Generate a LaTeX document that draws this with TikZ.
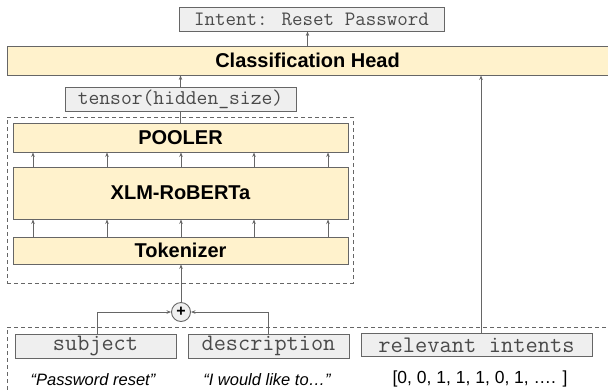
\documentclass[tikz,border=0pt]{standalone}
\usepackage{fontspec}
\setmainfont{Liberation Sans}
\usetikzlibrary{arrows.meta}
\definecolor{yfill}{HTML}{FFF2CC}
\definecolor{gfill}{HTML}{EFEFEF}
\definecolor{edge}{HTML}{666666}
\definecolor{mtext}{HTML}{4A4A4A}
\tikzset{
  ybox/.style={draw=edge, fill=yfill, line width=0.9bp, inner sep=0pt, text=black,
    font=\fontsize{20bp}{24bp}\selectfont\bfseries},
  gbox/.style={draw=edge, fill=gfill, line width=0.9bp, inner sep=0pt, text=mtext},
  dbox/.style={draw=edge, dashed, dash pattern=on 4bp off 3bp, line width=0.9bp, inner sep=0pt},
  arr/.style={draw=edge, line width=0.9bp, -{Stealth[length=4.5bp,width=3.5bp]}},
  ln/.style={draw=edge, line width=0.9bp},
  quote/.style={inner sep=0pt, font=\fontsize{16.5bp}{20bp}\selectfont\itshape},
}
\begin{document}
\begin{tikzpicture}[x=1bp,y=-1bp]
\path[use as bounding box] (0,0) rectangle (608,391);
\clip (0,0) rectangle (608,391);
% boxes
\node[gbox, minimum width=265bp, minimum height=24bp, font=\fontsize{20.4bp}{22bp}\ttfamily] (intent) at (311.5,19) {Intent: Reset Password};
\node[ybox, minimum width=601bp, minimum height=29bp] (cls) at (307.5,60.5) {Classification Head};
\node[gbox, minimum width=231bp, minimum height=24bp, font=\fontsize{21bp}{22bp}\ttfamily] (tensor) at (180.5,99) {tensor(hidden\_size)};
\node[dbox, minimum width=346bp, minimum height=166bp] (enc) at (180,200) {};
\node[ybox, minimum width=335bp, minimum height=29bp] (pool) at (180.5,137.5) {POOLER};
\node[ybox, minimum width=335bp, minimum height=52bp] (xlm) at (180.5,193) {XLM-RoBERTa};
\node[ybox, minimum width=335bp, minimum height=27bp] (tok) at (180.5,250.5) {Tokenizer};
\node[circle, draw=edge, fill=gfill, line width=0.9bp, minimum size=19bp, inner sep=0pt, font=\fontsize{16bp}{16bp}\selectfont\bfseries] (plus) at (181,312) {+};
\node[dbox, minimum width=613bp, minimum height=80bp] (inp) at (313.5,367) {};
\node[gbox, minimum width=161bp, minimum height=24bp, font=\fontsize{23.6bp}{24bp}\ttfamily] (subj) at (95.5,346) {subject};
\node[gbox, minimum width=161bp, minimum height=24bp, font=\fontsize{23.6bp}{24bp}\ttfamily] (desc) at (268.5,346) {description};
\node[gbox, minimum width=231bp, minimum height=23bp, font=\fontsize{23.8bp}{24bp}\ttfamily] (rel) at (476.5,345) {relevant intents};
\node[quote] (q1) at (93,380) {“Password reset”};
\node[quote] (q2) at (267,380) {“I would like to…”};
\node[inner sep=0pt, font=\fontsize{17.5bp}{20bp}\selectfont] (vec) at (480,379) {[0, 0, 1, 1, 1, 0, 1, …. ]};
% connectors
\draw[arr] (cls.north) -- (cls.north |- intent.south);
\draw[arr] (tensor.north) -- (tensor.north |- cls.south);
\draw[ln] (pool.north) -- (pool.north |- tensor.south);
\foreach \d in {-147.5,-73.5,0.5,73.5,147.5}{
  \draw[arr] ([xshift=\d bp]xlm.north) -- ([xshift=\d bp]pool.south);
  \draw[arr] ([xshift=\d bp]tok.north) -- ([xshift=\d bp]xlm.south);
}
\draw[arr] (plus.north) -- (plus.north |- tok.south);
\draw[arr] ([xshift=1.5bp]subj.north) |- (plus.west);
\draw[arr] (desc.north) |- (plus.east);
\draw[arr] ([xshift=4.5bp]rel.north) -- ([xshift=4.5bp]rel.north |- cls.south);
\end{tikzpicture}
\end{document}
